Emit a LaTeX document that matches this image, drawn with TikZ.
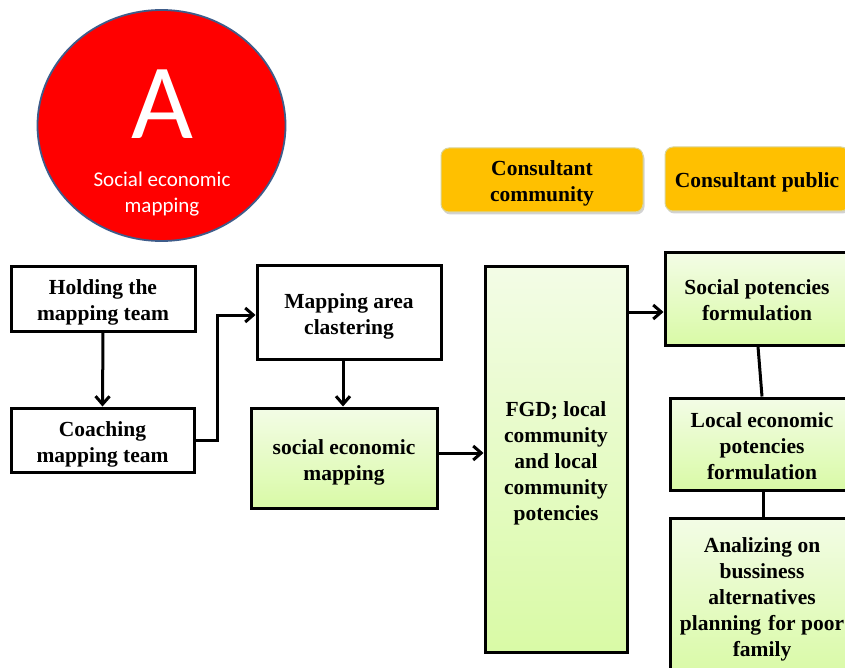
\documentclass[tikz,border=0pt]{standalone}
\usepackage{fontspec}
\setmainfont{Liberation Serif}
\newfontfamily\circlefont{Carlito}
\usetikzlibrary{arrows.meta,shadows,shapes.geometric}
\definecolor{gtop}{HTML}{F3FCE6}
\definecolor{gbot}{HTML}{D9FAA6}
\definecolor{orng}{HTML}{FFC000}
\definecolor{orngborder}{HTML}{D9D59A}
\definecolor{circborder}{HTML}{3E5C8A}
\tikzset{
  txt/.style={font=\fontsize{21.5}{26}\selectfont\bfseries, align=center, text=black, inner sep=0pt},
  wbox/.style={draw=black, line width=3pt, fill=white, inner sep=0pt},
  gbox/.style={draw=black, line width=3pt, top color=gtop, bottom color=gbot, inner sep=0pt,
     drop shadow={opacity=0.35, shadow xshift=2pt, shadow yshift=-2pt}},
  obox/.style={draw=orngborder, line width=1pt, fill=orng, rounded corners=8pt, inner sep=0pt,
     drop shadow={opacity=0.35, shadow xshift=1.5pt, shadow yshift=-2.5pt}},
  conn/.style={line width=3pt, draw=black},
  arr/.style={conn, -{Straight Barb[length=8pt,width=14pt,line width=3pt]}},
}
\begin{document}
\begin{tikzpicture}[x=1pt,y=-1pt]
\useasboundingbox (0,0) rectangle (845,668);
\clip (0,0) rectangle (845,668);
\fill[white] (0,0) rectangle (845,668);
% circle
\node[ellipse, draw=circborder, line width=1.8pt, fill=red, minimum width=248pt, minimum height=231pt, inner sep=0pt] (circ) at (161.5,125.5) {};
\node[font=\circlefont\fontsize{107}{107}\selectfont, text=white, inner sep=0pt] (bigA) at (162,104) {A};
\node[font=\circlefont\fontsize{21}{25.5}\selectfont, text=white, align=center, inner sep=0pt] (circtxt) at (162,194) {Social economic\\mapping};
% left boxes
\node[wbox, minimum width=184pt, minimum height=65pt] (hold) at (103,298.5) {};
\node[txt] (hold-t) at ([yshift=-4pt]hold.center) {Holding the\\mapping team};
\node[wbox, minimum width=183pt, minimum height=64pt] (coach) at (102.5,440) {};
\node[txt] (coach-t) at ([yshift=-4.5pt]coach.center) {Coaching\\mapping team};
\node[wbox, minimum width=184pt, minimum height=94pt] (maparea) at (349,312) {};
\node[txt] (maparea-t) at ([yshift=-4.5pt]maparea.center) {Mapping area\\clastering};
\node[gbox, minimum width=186pt, minimum height=100pt] (soceco) at (344,458) {};
\node[txt] (soceco-t) at ([yshift=-4.5pt]soceco.center) {social economic\\mapping};
\node[gbox, minimum width=142pt, minimum height=386pt] (fgd) at (556,459) {};
\node[txt] (fgd-t) at ([yshift=-4pt]fgd.center) {FGD; local\\community\\and local\\community\\potencies};
% consultant boxes
\node[obox, minimum width=202pt, minimum height=64pt] (ccom) at (542,180) {};
\node[txt] (ccom-t) at ([yshift=-3.5pt]ccom.center) {Consultant\\community};
\node[obox, minimum width=184pt, minimum height=64pt] (cpub) at (757,179) {};
\node[txt] (cpub-t) at ([yshift=-3.5pt]cpub.center) {Consultant public};
% right column
\node[gbox, minimum width=184pt, minimum height=93pt] (socpot) at (757,298.5) {};
\node[txt] (socpot-t) at ([yshift=-2pt]socpot.center) {Social potencies\\formulation};
\node[gbox, minimum width=184pt, minimum height=92pt] (localeco) at (762,444) {};
\node[txt] (localeco-t) at ([yshift=-2.5pt]localeco.center) {Local economic\\potencies\\formulation};
\node[gbox, minimum width=184pt, minimum height=158pt] (analyz) at (762,597) {};
\node[txt] (analyz-t) at ([yshift=-2.5pt]analyz.center) {Analizing on\\bussiness\\alternatives\\planning\hspace{7pt}for poor\\family};
% connectors
\draw[arr] (hold.south) -- (coach.north);
\coordinate (bend1) at (217,440);
\coordinate (bend2) at (217,315);
\draw[arr] (coach.east) -- (bend1) -- (bend2) -- (bend2 -| maparea.west);
\draw[arr] (maparea.south -| 343,0) -- (343,0 |- soceco.north);
\draw[arr] (soceco.east |- 0,453) -- (fgd.west |- 0,453);
\draw[arr] (fgd.east |- 0,312) -- (socpot.west |- 0,312);
\draw[conn] (socpot.south -| 758,0) -- (localeco.north -| 762,0);
\draw[conn] (localeco.south -| 763,0) -- (analyz.north -| 763,0);
\end{tikzpicture}
\end{document}
